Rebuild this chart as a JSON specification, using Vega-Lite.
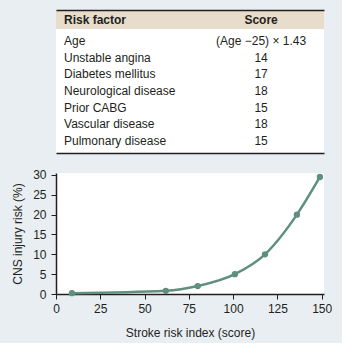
{
  "$schema": "https://vega.github.io/schema/vega-lite/v6.json",
  "background": "#e9eef3",
  "padding": {"left": 11, "top": 10, "right": 10, "bottom": 5},
  "spacing": 15,
  "config": {
    "view": {"stroke": null},
    "font": "Liberation Sans",
    "text": {"font": "Liberation Sans", "fontSize": 12, "color": "#231f20"},
    "axis": {
      "domainColor": "#231f20", "domainWidth": 1.5, "tickColor": "#231f20", "tickSize": 5,
      "labelFont": "Liberation Sans", "labelFontSize": 12, "labelColor": "#231f20",
      "titleFont": "Liberation Sans", "titleFontSize": 12, "titleFontWeight": "normal", "titleColor": "#231f20",
      "grid": false, "labelPadding": 4
    },
    "axisX": {"titlePadding": 13, "labelFlush": false},
    "axisY": {"titlePadding": 8, "labelPadding": 5}
  },
  "vconcat": [
    {
      "spacing": 0,
      "vconcat": [
        {
          "width": 268, "height": 19,
          "view": {"fill": "#e8dcca", "stroke": null},
          "data": {"values": [{"col": "Risk factor"}, {"col": "Score"}]},
          "encoding": {
            "x": {"field": "col", "type": "nominal",
              "scale": {"type": "point", "domain": ["Risk factor", "Score"], "padding": 0.18, "align": 0.113},
              "axis": {"orient": "top", "labels": false, "ticks": false, "title": null, "domain": true, "domainWidth": 1.5}},
            "text": {"field": "col"}
          },
          "layer": [
            {"transform": [{"filter": "datum.col == 'Risk factor'"}], "mark": {"type": "text", "align": "left", "baseline": "middle", "fontWeight": "bold"}},
            {"transform": [{"filter": "datum.col == 'Score'"}], "mark": {"type": "text", "align": "center", "baseline": "middle", "fontWeight": "bold"}}
          ]
        },
        {
          "width": 268, "height": 124,
          "view": {"fill": "white", "stroke": null},
          "data": {"values": [
            {"factor": "Age", "score": "(Age −25) × 1.43"},
            {"factor": "Unstable angina", "score": "14"},
            {"factor": "Diabetes mellitus", "score": "17"},
            {"factor": "Neurological disease", "score": "18"},
            {"factor": "Prior CABG", "score": "15"},
            {"factor": "Vascular disease", "score": "18"},
            {"factor": "Pulmonary disease", "score": "15"}
          ]},
          "encoding": {
            "y": {"field": "factor", "type": "nominal", "sort": null, "scale": {"type": "point", "padding": 0.72}, "axis": null}
          },
          "layer": [
            {
              "mark": {"type": "text", "align": "left", "baseline": "middle"},
              "encoding": {
                "x": {"datum": "Risk factor", "type": "nominal",
                  "scale": {"type": "point", "domain": ["Risk factor", "Score"], "padding": 0.18, "align": 0.113},
                  "axis": {"orient": "bottom", "labels": false, "ticks": false, "title": null, "domain": true, "domainWidth": 1.5}},
                "text": {"field": "factor"}
              }
            },
            {
              "mark": {"type": "text", "align": "center", "baseline": "middle"},
              "encoding": {
                "x": {"datum": "Score", "type": "nominal",
                  "axis": {"orient": "bottom", "labels": false, "ticks": false, "title": null, "domain": true, "domainWidth": 1.5}},
                "text": {"field": "score"}
              }
            }
          ]
        }
      ]
    },
    {
      "width": 268, "height": 121,
      "view": {"fill": "white", "stroke": null},
      "data": {"values": [
        {"index": 9, "risk": 0.2},
        {"index": 62, "risk": 0.8},
        {"index": 80, "risk": 2.0},
        {"index": 101, "risk": 5.0},
        {"index": 118, "risk": 10.0},
        {"index": 136, "risk": 20.0},
        {"index": 149, "risk": 29.5}
      ]},
      "encoding": {
        "x": {"field": "index", "type": "quantitative", "scale": {"domain": [0, 151.3], "nice": false},
          "axis": {"values": [0, 25, 50, 75, 100, 125, 150], "title": "Stroke risk index (score)"}},
        "y": {"field": "risk", "type": "quantitative", "scale": {"domain": [0, 30.5], "nice": false},
          "axis": {"values": [0, 5, 10, 15, 20, 25, 30], "title": "CNS injury risk (%)"}}
      },
      "layer": [
        {"mark": {"type": "line", "interpolate": "monotone", "color": "#5f8f7d", "strokeWidth": 2.5}},
        {"mark": {"type": "point", "filled": true, "size": 40, "color": "#5f8f7d", "opacity": 1}}
      ]
    }
  ]
}
